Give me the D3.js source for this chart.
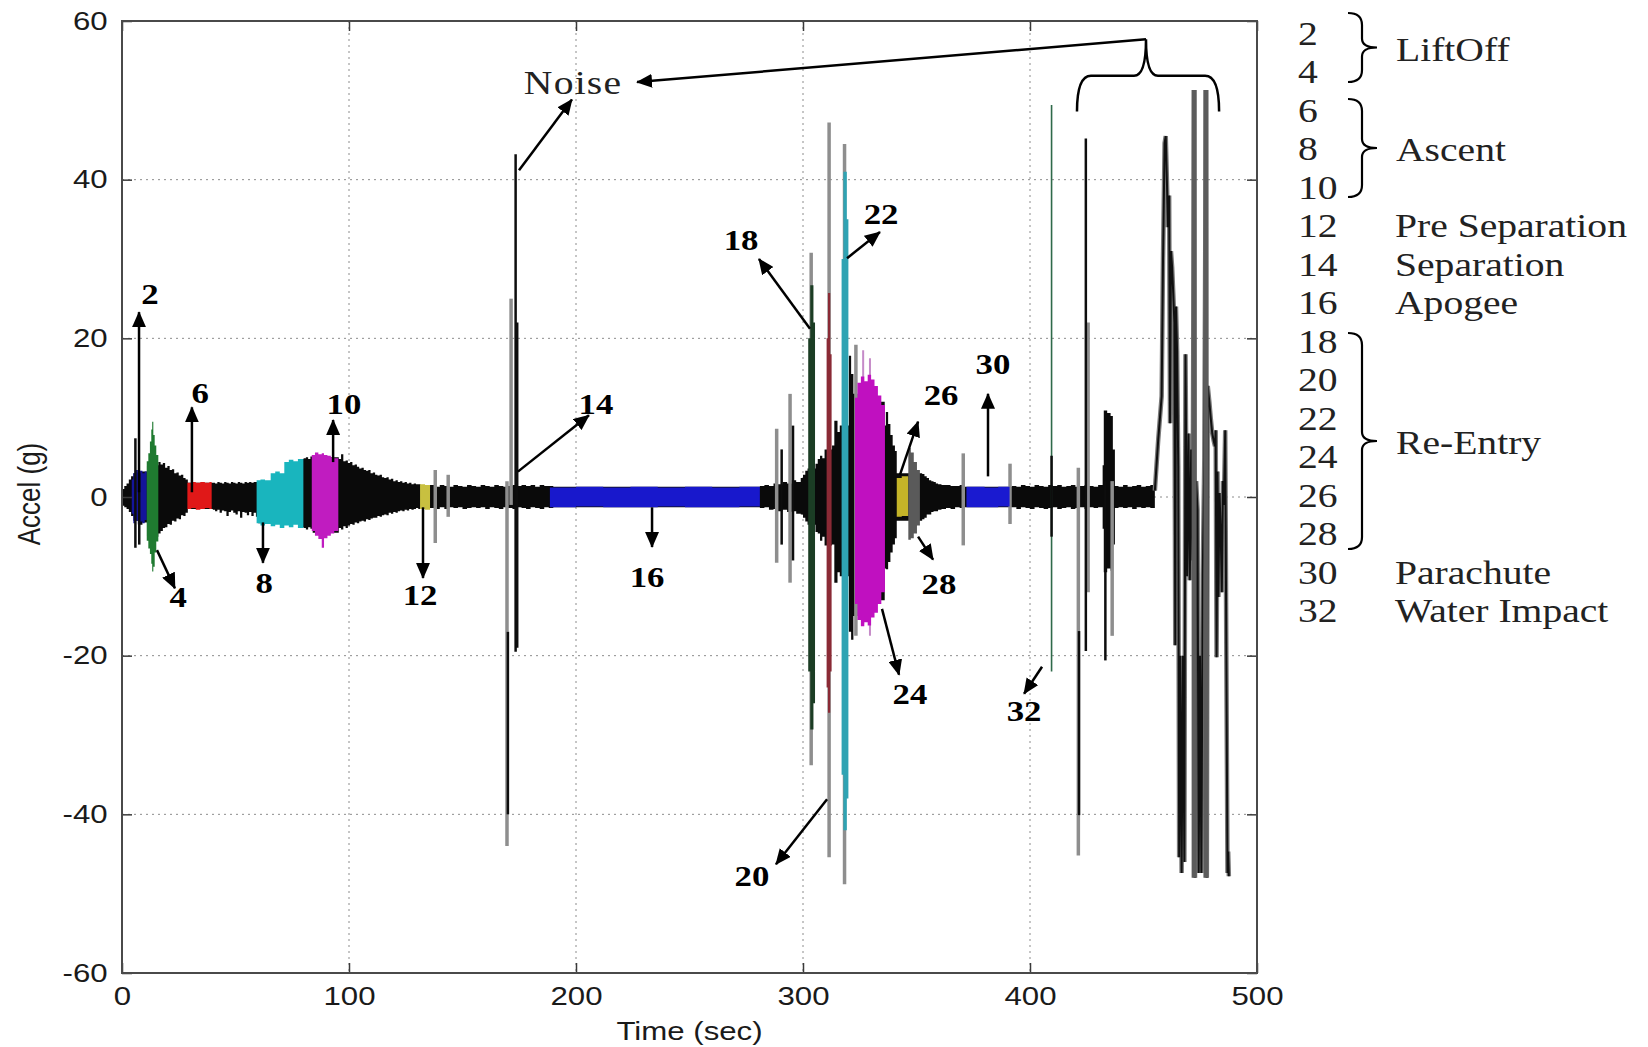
<!DOCTYPE html>
<html>
<head>
<meta charset="utf-8">
<script src="https://cdn.jsdelivr.net/npm/d3@7"></script>
<style>
  body { margin: 0; background: #fff; }
</style>
</head>
<body>
<svg id="chart"></svg>
<script>
// ---- data ----
const xTicks = [0, 100, 200, 300, 400, 500];
const yTicks = [-60, -40, -20, 0, 20, 40, 60];

// black accelerometer trace, drawn as its envelope [time, upper, lower]
const baseEnvelope = [
  [0,1.0,-1.1],[1,1.4,-1.3],[2,1.7,-1.5],[3,2.2,-1.9],[4,2.6,-2.4],[5,3.0,-3.0],[7,3.2,-3.5],[9,3.2,-3.2],
  [11,4.0,-5.0],[13,4.0,-5.0],[16,4.4,-4.6],[17,4.1,-4.3],[18,4.3,-3.9],[19,3.7,-3.8],[20,3.9,-3.4],
  [21,3.4,-3.5],[22,3.5,-3.0],[23,3.0,-3.1],[24,3.1,-2.7],[25,2.7,-2.8],[26,2.8,-2.3],[27,2.4,-2.4],
  [28,2.2,-2.0],[29,1.8,-1.5],[39.5,1.8,-1.5],[40,1.8,-1.6],[41,1.7,-1.8],[42,1.9,-1.6],[43,1.8,-2.0],
  [44,1.7,-1.7],[45,1.9,-1.8],[46,1.8,-2.4],[47,1.7,-1.9],[48,1.9,-1.7],[49,1.8,-2.0],[50,1.7,-2.2],
  [51,1.9,-1.8],[52,1.8,-2.6],[53,1.7,-1.9],[54,1.9,-2.0],[55,1.8,-2.3],[56,1.9,-1.9],[57,1.8,-2.4],
  [58,1.9,-2.0],[59,1.9,-2.5],[60,2.0,-3.3],[79,4.8,-3.8],[80,4.9,-3.9],[81,5.0,-4.1],[82,4.8,-3.8],
  [83,5.1,-4.0],[84,5.0,-4.5],[95,5.0,-4.5],[95.5,4.8,-3.9],[96.5,5.4,-4.1],[97.5,4.5,-3.7],[98.5,4.6,-3.9],
  [99.5,4.3,-3.6],[100.5,4.4,-3.4],[101.5,4.0,-3.5],[102.5,4.1,-3.2],[103.5,3.8,-3.3],[104.5,3.6,-3.1],
  [105.5,3.7,-3.0],[106.5,3.4,-3.1],[107.5,3.3,-2.8],[108.5,3.4,-2.9],[109.5,3.0,-2.7],[110.5,3.1,-2.6],
  [111.5,2.8,-2.6],[112.5,2.7,-2.4],[113.5,2.8,-2.5],[114.5,2.5,-2.3],[115.5,2.4,-2.2],[116.5,2.5,-2.3],
  [117.5,2.2,-2.0],[118.5,2.3,-2.1],[119.5,2.0,-1.9],[120.5,2.1,-2.0],[121.5,1.9,-1.8],[122.5,2.0,-1.7],
  [123.5,1.8,-1.8],[124.5,1.9,-1.6],[125.5,1.7,-1.7],[126.5,1.8,-1.5],[127.5,1.6,-1.6],[128.5,1.7,-1.5],
  [129.5,1.6,-1.4],[130.5,1.6,-1.5],[131.5,1.5,-1.4],[135.5,1.5,-1.4],[136.5,1.5,-1.4],[138,1.3,-1.5],
  [140,1.5,-1.3],[142,1.4,-1.5],[144,1.3,-1.3],[146,1.5,-1.4],[148,1.4,-1.3],[150,1.3,-1.5],[152,1.5,-1.4],
  [154,1.4,-1.3],[156,1.3,-1.4],[158,1.5,-1.3],[160,1.4,-1.5],[162,1.3,-1.3],[164,1.5,-1.4],[166,1.4,-1.5],
  [168,1.3,-1.3],[170,1.4,-1.4],[172,1.5,-1.5],[174,1.4,-1.3],[176,1.5,-1.4],[178,1.4,-1.5],[180,1.5,-1.3],
  [182,1.3,-1.4],[184,1.5,-1.5],[186,1.4,-1.3],[188,1.4,-1.4],[190,1.3,-1.3],[280,1.3,-1.3],[281,1.4,-1.4],
  [283,1.5,-1.3],[285,1.4,-1.6],[287,1.7,-1.5],[289,1.6,-1.8],[291,1.9,-1.6],[293,1.7,-1.9],[295,2.1,-1.8],
  [297,1.9,-2.1],[299,2.4,-2.2],[300,2.8,-2.6],[301,3.3,-3.1],[302,3.6,-3.5],[305.5,4.2,-4.4],
  [306.5,4.8,-4.6],[307.5,5.2,-5.5],[308.5,4.9,-5.0],[309.5,6.0,-6.1],[312.8,6.5,-6.0],[313.8,9.6,-10.8],
  [315.2,8.2,-9.5],[316.2,9.0,-10.0],[320.2,17.8,-17.0],[321.2,15.5,-18.0],[322.2,13.0,-15.0],
  [324,12.0,-13.0],[336,9.0,-9.0],
  [336.5,10.7,-9.1],[337.5,9.2,-8.2],[338.5,7.8,-7.0],[339.5,6.5,-6.0],[340.5,5.8,-5.2],[341.3,3.0,-3.0],
  [351.5,3.0,-3.0],[352.5,2.9,-2.8],[353.5,2.6,-2.6],[354.5,2.4,-2.2],[355.5,2.1,-2.2],[356.5,2.0,-1.9],
  [357.5,1.9,-1.8],[358.5,1.7,-1.8],[359.5,1.6,-1.6],[361,1.5,-1.5],[363,1.5,-1.4],[365,1.4,-1.5],
  [367,1.4,-1.3],[369,1.5,-1.4],[371,1.3,-1.3],[391,1.3,-1.3],[392,1.4,-1.3],[394,1.3,-1.5],[396,1.5,-1.3],
  [398,1.4,-1.4],[400,1.3,-1.5],[402,1.5,-1.3],[404,1.4,-1.4],[406,1.3,-1.5],[408,1.5,-1.4],[410,1.4,-1.3],
  [412,1.5,-1.5],[414,1.3,-1.4],[416,1.4,-1.3],[418,1.5,-1.5],[420,1.3,-1.4],[422,1.4,-1.3],[424,1.5,-1.5],
  [426,1.4,-1.3],[428,1.3,-1.4],[430,1.5,-1.3],[432,4.0,-4.0],[432.5,10.9,-9.5],[434,10.6,-9.0],
  [435.5,10.2,-9.3],[436.5,6.0,-6.0],[437.4,1.4,-1.4],[439,1.3,-1.3],[441,1.5,-1.4],[443,1.3,-1.3],
  [445,1.4,-1.5],[447,1.5,-1.3],[449,1.3,-1.4],[451,1.4,-1.3],[453,1.5,-1.4],[455,1.2,-1.2]
];

// coloured flight phases, same [time, upper, lower] layout
const phaseIds = ["2", "4", "6", "8", "10", "12", "16", "18", "20", "22", "24", "26", "28", "30"];
const phaseEnvelopes = [
  [[4.3,2.2,-2.1],[5,3.0,-3.3],[6,3.4,-3.0],[7,3.1,-3.4],[8,3.3,-3.1],[9,3.0,-3.3],[10,3.2,-2.9],[10.9,3.2,-2.9]],
  [[10.9,4.5,-5.5],[11.6,5.5,-6.5],[12.3,7.0,-7.2],[12.9,8.5,-8.4],[13.3,9.5,-9.4],[13.8,7.8,-8.8],[14.4,6.5,-7.0],[15.1,5.3,-5.6],[16,5.3,-5.6]],
  [[28.8,1.8,-1.5],[30.5,1.9,-1.4],[32.5,1.8,-1.6],[34.5,1.9,-1.5],[36.5,1.8,-1.4],[38.5,1.9,-1.5],[39.5,1.9,-1.5]],
  [[59.3,2.1,-3.3],[61,2.2,-3.6],[63,2.1,-3.4],[65.5,3.0,-3.7],[67.5,3.2,-3.5],[69.5,3.0,-3.9],[71.5,4.4,-3.6],[73.5,4.7,-3.8],[75.5,4.5,-3.5],[77.5,4.8,-3.9],[79.9,4.8,-3.9]],
  [[83.6,5.3,-4.3],[85,5.6,-4.9],[86.5,5.4,-5.3],[88,5.5,-6.4],[89,5.3,-5.2],[90.5,5.2,-4.9],[92,5.0,-4.6],[93.5,4.9,-4.3],[95.3,4.9,-4.3]],
  [[131.3,1.6,-1.5],[133.5,1.5,-1.6],[135.7,1.5,-1.6]],
  [[188.5,1.2,-1.3],[200,1.3,-1.2],[212,1.2,-1.3],[224,1.3,-1.3],[236,1.2,-1.2],[248,1.3,-1.3],[260,1.2,-1.3],[272,1.3,-1.2],[281,1.3,-1.2]],
  [[302.3,20,-22],[303.2,26.7,-29.3],[304.6,22,-26],[305.3,22,-26]],
  [[310.4,20,-24],[311,25.7,-27.2],[312,18,-22],[312.6,18,-22]],
  [[317,30,-35],[317.8,41,-42],[319.3,35,-38],[320,35,-38]],
  [[322.9,12.5,-13.5],[324,14.4,-15.5],[325.5,15.2,-16.3],[327,14.6,-15.8],[328.5,15.4,-16.2],[330,14.8,-15.2],[331.5,14,-14.6],[333,12.8,-13.5],[334.5,11.6,-12],[336.1,11.6,-12]],
  [[341.3,2.4,-2.5],[343.5,2.6,-2.4],[346.4,2.6,-2.4]],
  [[346.4,6.2,-5.4],[347.5,5.6,-5.2],[348.8,4.4,-4.6],[350.2,3.4,-3.6],[351.5,3.4,-3.6]],
  [[372,1.3,-1.3],[380,1.2,-1.3],[386,1.3,-1.2],[391,1.3,-1.2]]
];
const phaseColors = ["#14149a", "#1f7a30", "#e01818", "#19b5be", "#c01cc0", "#c8c040", "#1818cc",
  "#1b3d24", "#8a2a35", "#2fa3b3", "#c010c0", "#c4b428", "#5a5a5a", "#1a1ad0"];

// single excursions: [time, upper, lower, tone]
const spikes = [
  [5.9,7.4,-6.4,"k"],[7.6,3,-6.0,"k"],[138,3.4,-5.8,"gray"],[143.7,2.8,-2.5,"gray"],
  [169.6,2,-44,"gray"],[170,-17,-40,"k"],[171.4,25,-1,"gray"],[173.4,43.2,-19.5,"k"],[174.1,22,-19,"k"],
  [288.4,8.6,-8.3,"gray"],[290.6,6,-6,"k"],[294.3,13,-10.8,"gray"],[295.6,9,-8,"k"],
  [303.6,30.8,-33.8,"gray"],[311.5,47.2,-45.4,"gray"],[318.3,44.5,-48.8,"gray"],[323.3,19.2,-17.5,"gray"],
  [326.5,18.5,-16,"k"],[329.5,17.5,-17.5,"k"],
  [370.6,5.5,-6.1,"gray"],[391.2,4.2,-3.4,"gray"],
  [409.5,49.4,-22,"green"],[409.5,5.2,-5,"k"],
  [421.3,3.7,-45.2,"gray"],[421.6,-16.9,-40.1,"k"],[424.6,45.2,-19.4,"k"],[425.6,22,-12,"gray"],
  [433.2,2,-20.6,"k"],[436.2,2,-17.5,"gray"],
  [472.3,51.3,-48,"dark"],[477.5,51.3,-48,"dark"]
];

// water impact: the trace after 455 s, [time, accel]
const impactTrace = [
  [455,0.8],[456.5,7.3],[458,12.7],[458.6,30],[459.3,44.6],[459.8,45.5],[460.3,40],[460.8,34],[461.3,38],
  [461.7,9.3],[462.1,31],[462.6,29],[463.1,25.7],[463.6,22],[464,-18.7],[464.3,24],[464.8,18.4],[465.3,3.9],
  [465.7,-45.4],[466.2,-20],[466.8,-47.4],[467.4,-20],[468,-46],[468.5,18],[469.2,-10],[469.8,8],[470.4,-10.5],
  [471,6],[471.6,-8],[472.3,51.3],[472.7,-48],[473.2,2],[473.8,-1.6],[474.3,-47.4],[474.9,-20],[475.5,-47.4],
  [476.1,-10],[476.8,5],[477.5,51.3],[477.9,-48],[478.3,14],[479,12],[479.6,10],[480.3,8],[481,7],[481.5,6.4],
  [481.8,8.4],[482.2,-20.2],[482.6,3.2],[483,-12.6],[483.5,0.5],[484,-4.3],[484.5,-12],[485,2],[485.4,-1],
  [486,8.4],[486.5,-20],[487,-47.4],[487.3,-44.7],[487.6,-47.8]
];

const legendIds = ["2","4","6","8","10","12","14","16","18","20","22","24","26","28","30","32"];
const legendNames = ["","","","","","Pre Separation","Separation","Apogee","","","","","","","Parachute","Water Impact"];
const legendGroups = ["LiftOff", "Ascent", "Re-Entry"];

// ---- layout ----
const width = 1648, height = 1047;
const margin = { top: 21, right: 391, bottom: 74, left: 122 };
const SX = 1.2; // the source image is stretched horizontally, so is its text

const x = d3.scaleLinear().domain([0, 500]).range([margin.left, width - margin.right]);
const y = d3.scaleLinear().domain([-60, 60]).range([height - margin.bottom, margin.top]);

const svg = d3.select("#chart").attr("width", width).attr("height", height);
svg.append("rect").attr("width", width).attr("height", height).attr("fill", "#fff");

const defs = svg.append("defs");
defs.append("clipPath").attr("id", "plotClip").append("rect")
  .attr("x", margin.left).attr("y", margin.top)
  .attr("width", x(500) - x(0)).attr("height", y(-60) - y(60));
defs.append("marker")
  .attr("id", "head").attr("viewBox", "0 0 16 14")
  .attr("refX", 15).attr("refY", 7)
  .attr("markerWidth", 16).attr("markerHeight", 14)
  .attr("markerUnits", "userSpaceOnUse").attr("orient", "auto")
  .append("path").attr("d", "M0,0L16,7L0,14Z").attr("fill", "#000");

// grid
const grid = svg.append("g").attr("stroke", "#8c8c8c").attr("stroke-width", 1).attr("stroke-dasharray", "2,4");
grid.selectAll("line.v").data(xTicks.slice(1, -1)).join("line").attr("class", "v")
  .attr("x1", (d) => x(d)).attr("x2", (d) => x(d)).attr("y1", y(60)).attr("y2", y(-60));
grid.selectAll("line.h").data(yTicks.slice(1, -1)).join("line").attr("class", "h")
  .attr("x1", x(0)).attr("x2", x(500)).attr("y1", (d) => y(d)).attr("y2", (d) => y(d));

// signal
const band = d3.area()
  .x((d) => x(d[0])).y0((d) => y(d[2])).y1((d) => y(d[1]))
  .curve(d3.curveStepAfter);

const plot = svg.append("g").attr("clip-path", "url(#plotClip)");
plot.append("path").datum(baseEnvelope).attr("d", band).attr("fill", "#0a0a0a");

const toneColor = { k: "#0d0d0d", gray: "#8e8e8e", green: "#2f6a4a", dark: "#5c5c5c" };
const toneWidth = { k: 2.5, gray: 3.5, green: 1.6, dark: 5 };

plot.selectAll("line.halo").data(spikes.filter((d) => d[3] === "gray")).join("line")
  .attr("class", "halo")
  .attr("x1", (d) => x(d[0])).attr("x2", (d) => x(d[0]))
  .attr("y1", (d) => y(d[1])).attr("y2", (d) => y(d[2]))
  .attr("stroke", (d) => toneColor[d[3]]).attr("stroke-width", (d) => toneWidth[d[3]]);

// a few black bursts sit behind the magenta lens
plot.selectAll("line.under").data(spikes.filter((d) => d[3] === "k" && d[0] > 325 && d[0] < 331)).join("line")
  .attr("class", "under")
  .attr("x1", (d) => x(d[0])).attr("x2", (d) => x(d[0]))
  .attr("y1", (d) => y(d[1])).attr("y2", (d) => y(d[2]))
  .attr("stroke", "#c58ac8").attr("stroke-width", 2);

plot.selectAll("path.phase").data(phaseEnvelopes).join("path")
  .attr("class", "phase")
  .attr("d", band)
  .attr("fill", (d, i) => phaseColors[i]);

plot.selectAll("line.spike").data(spikes.filter((d) => (d[3] === "k" && !(d[0] > 325 && d[0] < 331)) || d[3] === "green")).join("line")
  .attr("class", "spike")
  .attr("x1", (d) => x(d[0])).attr("x2", (d) => x(d[0]))
  .attr("y1", (d) => y(d[1])).attr("y2", (d) => y(d[2]))
  .attr("stroke", (d) => toneColor[d[3]]).attr("stroke-width", (d) => toneWidth[d[3]]);

const trace = d3.line().x((d) => x(d[0])).y((d) => y(d[1]));
plot.append("path").datum(impactTrace).attr("d", trace)
  .attr("fill", "none").attr("stroke", "#7a7a7a").attr("stroke-width", 4.5);
plot.append("path").datum(impactTrace).attr("d", trace)
  .attr("fill", "none").attr("stroke", "#101010").attr("stroke-width", 2);

plot.selectAll("line.tall").data(spikes.filter((d) => d[3] === "dark")).join("line")
  .attr("class", "tall")
  .attr("x1", (d) => x(d[0])).attr("x2", (d) => x(d[0]))
  .attr("y1", (d) => y(d[1])).attr("y2", (d) => y(d[2]))
  .attr("stroke", (d) => toneColor[d[3]]).attr("stroke-width", (d) => toneWidth[d[3]]);

// axes: ticks pointing inwards on all four sides
const styleAxis = (g) => {
  g.select(".domain").remove();
  g.attr("color", "#3a3a3a");
  g.selectAll(".tick line").attr("stroke-width", 1.5);
  g.selectAll("text")
    .attr("font-family", "'Liberation Sans', Arial, sans-serif")
    .attr("font-size", 26).attr("fill", "#1a1a1a")
    .attr("transform", `scale(${SX},1)`);
};
const plain = (d) => String(d);

svg.append("g").attr("transform", `translate(${margin.left},0)`)
  .call(d3.axisLeft(y).tickValues(yTicks).tickFormat(plain).tickSizeInner(-10).tickSizeOuter(0).tickPadding(12))
  .call(styleAxis);
svg.append("g").attr("transform", `translate(0,${y(-60)})`)
  .call(d3.axisBottom(x).tickValues(xTicks).tickFormat(plain).tickSizeInner(-10).tickSizeOuter(0).tickPadding(14))
  .call(styleAxis);
svg.append("g").attr("transform", `translate(${x(500)},0)`)
  .call(d3.axisRight(y).tickValues(yTicks).tickSizeInner(-10).tickSizeOuter(0).tickFormat(""))
  .call(styleAxis);
svg.append("g").attr("transform", `translate(0,${y(60)})`)
  .call(d3.axisTop(x).tickValues(xTicks).tickSizeInner(-10).tickSizeOuter(0).tickFormat(""))
  .call(styleAxis);

svg.append("rect")
  .attr("x", x(0)).attr("y", y(60))
  .attr("width", x(500) - x(0)).attr("height", y(-60) - y(60))
  .attr("fill", "none").attr("stroke", "#4a4a4a").attr("stroke-width", 2);

svg.append("text")
  .attr("transform", `translate(${(x(0) + x(500)) / 2},1040) scale(${SX},1)`)
  .attr("text-anchor", "middle")
  .attr("font-family", "'Liberation Sans', Arial, sans-serif").attr("font-size", 26).attr("fill", "#1a1a1a")
  .text("Time (sec)");
svg.append("text")
  .attr("transform", `translate(40,${y(0) - 3}) scale(${SX},1) rotate(-90)`)
  .attr("text-anchor", "middle")
  .attr("font-family", "'Liberation Sans', Arial, sans-serif").attr("font-size", 26).attr("fill", "#1a1a1a")
  .text("Accel (g)");

// call-outs, in data units: label centre and arrow from -> to
const callouts = [
  { label: "2",  at: [12.3, 25.6],   from: [7.5, 0.6],    to: [7.5, 23.3] },
  { label: "4",  at: [24.7, -12.6],  from: [15.4, -6.7],  to: [23.3, -11.5] },
  { label: "6",  at: [34.4, 13.1],   from: [30.8, 0.6],   to: [30.8, 11.3] },
  { label: "8",  at: [62.6, -10.8],  from: [62.1, -3.2],  to: [62.1, -8.3] },
  { label: "10", at: [97.8, 11.7],   from: [93, 4.4],     to: [93, 9.7] },
  { label: "12", at: [131.3, -12.4], from: [132.6, -1.3], to: [132.6, -10.2] },
  { label: "14", at: [208.8, 11.7],  from: [174.4, 3.2],  to: [205.7, 10.3] },
  { label: "16", at: [231.3, -10.1], from: [233.5, -1.3], to: [233.5, -6.3] },
  { label: "18", at: [272.7, 32.4],  from: [303.1, 21.2], to: [280.6, 30] },
  { label: "20", at: [277.5, -47.8], from: [310.6, -38.1], to: [288.1, -46.3] },
  { label: "22", at: [334.4, 35.6],  from: [319.4, 30.1], to: [333.9, 33.4] },
  { label: "24", at: [347.1, -24.8], from: [334.8, -14.1], to: [342.3, -22.4] },
  { label: "26", at: [360.8, 12.9],  from: [342.7, 2.8],  to: [350.7, 9.5] },
  { label: "28", at: [359.9, -11],   from: [350.7, -5],   to: [357.3, -7.9] },
  { label: "30", at: [383.7, 16.8],  from: [381.5, 2.6],  to: [381.5, 13] },
  { label: "32", at: [397.4, -27],   from: [405.3, -21.4], to: [397.4, -24.8] }
];

const notes = svg.append("g");
notes.selectAll("line.arrow").data(callouts).join("line").attr("class", "arrow")
  .attr("x1", (d) => x(d.from[0])).attr("y1", (d) => y(d.from[1]))
  .attr("x2", (d) => x(d.to[0])).attr("y2", (d) => y(d.to[1]))
  .attr("stroke", "#000").attr("stroke-width", 2.5).attr("marker-end", "url(#head)");
notes.selectAll("text.num").data(callouts).join("text").attr("class", "num")
  .attr("transform", (d) => `translate(${x(d.at[0])},${y(d.at[1])}) scale(${SX},1)`)
  .attr("dy", "0.34em").attr("text-anchor", "middle")
  .attr("font-family", "'Liberation Serif', 'Times New Roman', serif")
  .attr("font-weight", "bold").attr("font-size", 29).attr("fill", "#000")
  .text((d) => d.label);

// "Noise" pointer and the brace over the impact spikes
notes.append("text")
  .attr("transform", `translate(${x(198.7)},${y(52.2)}) scale(${SX},1)`)
  .attr("dy", "0.34em").attr("text-anchor", "middle")
  .attr("font-family", "'Liberation Serif', 'Times New Roman', serif")
  .attr("font-size", 33).attr("fill", "#222").attr("letter-spacing", 1)
  .text("Noise");
notes.append("line")
  .attr("x1", x(174.9)).attr("y1", y(41.2)).attr("x2", x(198.2)).attr("y2", y(50.1))
  .attr("stroke", "#000").attr("stroke-width", 2.5).attr("marker-end", "url(#head)");
notes.append("line")
  .attr("x1", x(451.1)).attr("y1", y(57.7)).attr("x2", x(226.9)).attr("y2", y(52.3))
  .attr("stroke", "#000").attr("stroke-width", 2.5).attr("marker-end", "url(#head)");
const bx0 = x(420.7), bx1 = x(483.3), bxp = x(451.1);
const byEnd = y(48.6), byBar = y(53.1), byPeak = y(57.7);
notes.append("path")
  .attr("d", `M${bx0},${byEnd} Q${bx0},${byBar} ${bx0 + 14},${byBar} L${bxp - 12},${byBar} ` +
    `Q${bxp},${byBar} ${bxp},${byPeak} Q${bxp},${byBar} ${bxp + 12},${byBar} ` +
    `L${bx1 - 14},${byBar} Q${bx1},${byBar} ${bx1},${byEnd}`)
  .attr("fill", "none").attr("stroke", "#000").attr("stroke-width", 2.5);

// legend on the right
const rowY = (i) => 33.6 + 38.5 * i;
const legendFont = "'Liberation Serif', 'Times New Roman', serif";
const legend = svg.append("g").attr("font-family", legendFont).attr("font-size", 33).attr("fill", "#222");
legend.selectAll("text.id").data(legendIds).join("text").attr("class", "id")
  .attr("transform", (d, i) => `translate(1298,${rowY(i)}) scale(${SX},1)`)
  .attr("dy", "0.34em").text((d) => d);
legend.selectAll("text.name").data(legendNames).join("text").attr("class", "name")
  .attr("transform", (d, i) => `translate(1395,${rowY(i)}) scale(${SX},1)`)
  .attr("dy", "0.34em").text((d) => d);

const braceSpans = [[13, 82], [99, 197], [333, 549]];
const brace = (top, bottom) => {
  const mid = (top + bottom) / 2, xa = 1348, xb = 1362, xt = 1377;
  return `M${xa},${top} Q${xb},${top} ${xb},${top + 12} L${xb},${mid - 9} Q${xb},${mid} ${xt},${mid} ` +
    `Q${xb},${mid} ${xb},${mid + 9} L${xb},${bottom - 12} Q${xb},${bottom} ${xa},${bottom}`;
};
legend.selectAll("path.brace").data(braceSpans).join("path").attr("class", "brace")
  .attr("d", (d) => brace(d[0], d[1]))
  .attr("fill", "none").attr("stroke", "#000").attr("stroke-width", 2.2);
legend.selectAll("text.group").data(legendGroups).join("text").attr("class", "group")
  .attr("transform", (d, i) => `translate(1396,${(braceSpans[i][0] + braceSpans[i][1]) / 2 + 2}) scale(${SX},1)`)
  .attr("dy", "0.34em").text((d) => d);
</script>
</body>
</html>
